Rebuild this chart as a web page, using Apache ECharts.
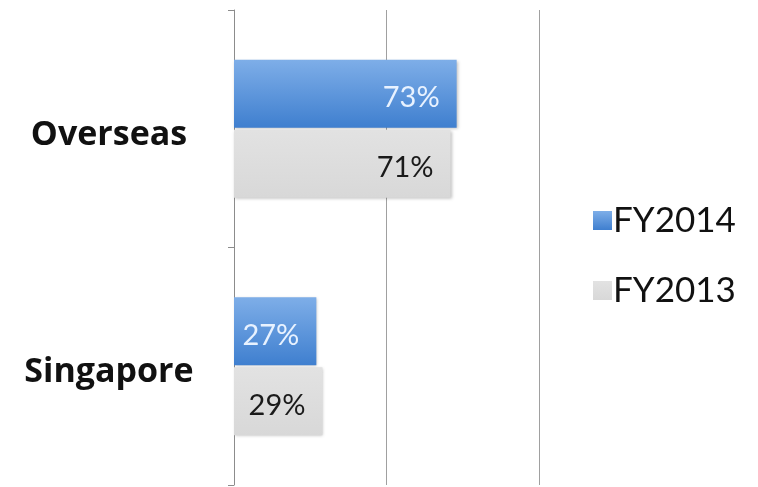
<!DOCTYPE html>
<html><head><meta charset="utf-8">
<script src="https://cdn.jsdelivr.net/npm/echarts@6/dist/echarts.min.js"></script>
<style>html,body{margin:0;padding:0;background:#fff}#c{width:758px;height:487px}</style>
</head><body><div id="c"></div>
<script>
const categories = ['Overseas', 'Singapore'];
const seriesNames = ['FY2014', 'FY2013'];
const fy2014 = [73, 27];
const fy2013 = [71, 29];
const xTicks = [0, 50, 100];

const chart = echarts.init(document.getElementById('c'), null, {renderer: 'canvas'});
const blue = new echarts.graphic.LinearGradient(0, 0, 0, 1, [
  {offset: 0, color: '#7eaee8'}, {offset: 1, color: '#3f7fcf'}]);
const grey = new echarts.graphic.LinearGradient(0, 0, 0, 1, [
  {offset: 0, color: '#e2e2e2'}, {offset: 1, color: '#d8d8d8'}]);
const labelFont = 'Lato, "Open Sans", sans-serif';
chart.setOption({
  animation: false,
  grid: {left: 234, right: 219, top: 10, bottom: 2, containLabel: false},
  legend: {
    orient: 'vertical', left: 593, top: 203, padding: 0,
    itemWidth: 19, itemHeight: 19, itemGap: 35,
    icon: 'rect',
    textStyle: {fontSize: 35, fontFamily: labelFont, color: '#111', padding: [0, 0, 0, -4]},
    data: seriesNames
  },
  xAxis: {
    type: 'value', min: xTicks[0], max: xTicks[xTicks.length - 1], interval: xTicks[1] - xTicks[0],
    axisLabel: {show: false}, axisLine: {show: false}, axisTick: {show: false},
    splitLine: {show: true, lineStyle: {color: '#a0a0a0', width: 1}}
  },
  yAxis: {
    type: 'category', data: categories, inverse: true,
    axisLine: {show: true, lineStyle: {color: '#8c8c8c', width: 1}},
    axisTick: {show: true, length: 6, lineStyle: {color: '#8c8c8c'}},
    axisLabel: {
      align: 'center', margin: 125,
      formatter: v => '{c|' + v + '}',
      rich: {c: {fontSize: 34, fontWeight: 'bold', fontFamily: '"Open Sans", sans-serif', color: '#111', padding: [13, 0, 0, 0]}}
    }
  },
  series: [
    {
      name: seriesNames[0], type: 'bar', data: fy2014, barWidth: 68, barGap: '3%',
      itemStyle: {color: blue, shadowColor: 'rgba(0,0,0,0.25)', shadowBlur: 3, shadowOffsetX: 1, shadowOffsetY: 1},
      label: {show: true, position: 'insideRight', distance: 17, formatter: '{c}%', fontSize: 29, fontFamily: labelFont, color: '#e8f2ff', offset: [0, 4]}
    },
    {
      name: seriesNames[1], type: 'bar', data: fy2013, barWidth: 68,
      itemStyle: {color: grey, shadowColor: 'rgba(0,0,0,0.25)', shadowBlur: 3, shadowOffsetX: 1, shadowOffsetY: 1},
      label: {show: true, position: 'insideRight', distance: 17, formatter: '{c}%', fontSize: 29, fontFamily: labelFont, color: '#1a1a1a', offset: [0, 4]}
    }
  ]
});
</script></body></html>
